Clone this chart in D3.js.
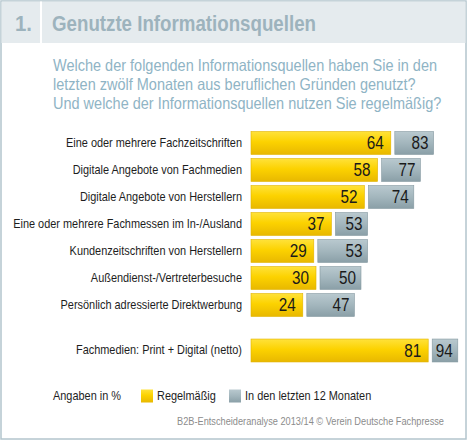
<!DOCTYPE html>
<html>
<head>
<meta charset="utf-8">
<script src="https://cdn.jsdelivr.net/npm/d3@7"></script>
<style>
  html, body { margin: 0; padding: 0; background: #fff; }
  svg { display: block; }
  text { font-family: "Liberation Sans", Arial, sans-serif; }
</style>
</head>
<body>
<script>
const width = 468, height = 441;

// data
const categories = [
  'Eine oder mehrere Fachzeitschriften',
  'Digitale Angebote von Fachmedien',
  'Digitale Angebote von Herstellern',
  'Eine oder mehrere Fachmessen im In-/Ausland',
  'Kundenzeitschriften von Herstellern',
  'Außendienst-/Vertreterbesuche',
  'Persönlich adressierte Direktwerbung'
];
const regular = [64, 58, 52, 37, 29, 30, 24];
const last12 = [83, 77, 74, 53, 53, 50, 47];

const nettoLabel = 'Fachmedien: Print + Digital (netto)';
const nettoRegular = 81;
const nettoLast12 = 94;

const legendItems = ['Regelmäßig', 'In den letzten 12 Monaten'];
const questionLines = [
  'Welche der folgenden Informationsquellen haben Sie in den',
  'letzten zwölf Monaten aus beruflichen Gründen genutzt?',
  'Und welche der Informationsquellen nutzen Sie regelmäßig?'
];

// the original uses a condensed grotesque; squeeze the fallback font to the same widths
function squeeze(sel, f) {
  sel.each(function () {
    const w = this.getComputedTextLength();
    d3.select(this).attr('textLength', w * f).attr('lengthAdjust', 'spacingAndGlyphs');
  });
}

const svg = d3.select('body').append('svg')
  .attr('width', width)
  .attr('height', height);

const defs = svg.append('defs');
const yellowGrad = defs.append('linearGradient').attr('id', 'gY').attr('x1', 0).attr('y1', 0).attr('x2', 0).attr('y2', 1);
yellowGrad.append('stop').attr('offset', '0%').attr('stop-color', '#ffe23a');
yellowGrad.append('stop').attr('offset', '45%').attr('stop-color', '#fcd200');
yellowGrad.append('stop').attr('offset', '100%').attr('stop-color', '#e8b800');
const greyGrad = defs.append('linearGradient').attr('id', 'gG').attr('x1', 0).attr('y1', 0).attr('x2', 0).attr('y2', 1);
greyGrad.append('stop').attr('offset', '0%').attr('stop-color', '#b9c9cf');
greyGrad.append('stop').attr('offset', '50%').attr('stop-color', '#a3b6bd');
greyGrad.append('stop').attr('offset', '100%').attr('stop-color', '#8a9fa7');

// frame + header
svg.append('rect').attr('x', 1).attr('y', 1).attr('width', width - 3).attr('height', height - 3)
  .attr('fill', '#fff').attr('stroke', '#b3c5cd').attr('stroke-width', 1.5);
svg.append('rect').attr('x', 1.5).attr('y', 1.5).attr('width', width - 4).attr('height', 41.5).attr('fill', '#e5ebee');
svg.append('rect').attr('x', 40).attr('y', 1.5).attr('width', 2).attr('height', 41.5).attr('fill', '#fff');

svg.append('text').attr('x', 15).attr('y', 31)
  .attr('font-size', 22).attr('font-weight', 'bold').attr('fill', '#9db3bd')
  .attr('textLength', 17).attr('lengthAdjust', 'spacingAndGlyphs')
  .text('1.');
svg.append('text').attr('x', 52).attr('y', 31)
  .attr('font-size', 22).attr('font-weight', 'bold').attr('fill', '#9db3bd')
  .attr('textLength', 264).attr('lengthAdjust', 'spacingAndGlyphs')
  .text('Genutzte Informationsquellen');

const question = svg.append('g').selectAll('text')
  .data(questionLines)
  .join('text')
  .attr('x', 53)
  .attr('y', (d, i) => 71 + i * 19)
  .attr('font-size', 16.5)
  .attr('fill', '#8fb4c5')
  .text(d => d);
squeeze(question, 384 / question.node().getComputedTextLength());

// scales
const x = d3.scaleLinear().domain([0, 100]).range([251, 471]);
const y = d3.scaleBand().domain(categories).range([129.5, 129.5 + 27 * 7]).paddingInner(0.15).paddingOuter(0.075);
const yNet = d3.scaleBand().domain([nettoLabel]).range([337, 364]).paddingInner(0.15).paddingOuter(0.075);

const rows = categories.map((c, i) => ({ label: c, reg: regular[i], all: last12[i], y: y(c), h: y.bandwidth() }));
rows.push({ label: nettoLabel, reg: nettoRegular, all: nettoLast12, y: yNet(nettoLabel), h: yNet.bandwidth() });

const row = svg.append('g').selectAll('g')
  .data(rows)
  .join('g')
  .attr('transform', d => `translate(0,${d.y})`);

const labels = row.append('text')
  .attr('x', 242)
  .attr('y', d => d.h / 2)
  .attr('dy', '0.3em')
  .attr('text-anchor', 'end')
  .attr('font-size', 13)
  .attr('fill', '#1e1e1e')
  .text(d => d.label);
const labelF = 176 / labels.node().getComputedTextLength();
squeeze(labels, labelF);

row.append('rect')
  .attr('x', x(0))
  .attr('width', d => x(d.reg) - x(0) - 1)
  .attr('height', d => d.h)
  .attr('fill', 'url(#gY)')
  .attr('stroke', '#e2b300').attr('stroke-width', 0.6);

row.append('rect')
  .attr('x', d => x(d.reg) + 3)
  .attr('width', d => x(d.all) - x(d.reg) - 3)
  .attr('height', d => d.h)
  .attr('fill', 'url(#gG)')
  .attr('stroke', '#8599a1').attr('stroke-width', 0.6);

const valRegular = row.append('text')
  .attr('x', d => x(d.reg) - 8)
  .attr('y', d => d.h / 2)
  .attr('dy', '0.36em')
  .attr('text-anchor', 'end')
  .attr('font-size', 18)
  .attr('fill', '#1a1a1a')
  .text(d => d.reg);
const valAll = row.append('text')
  .attr('x', d => x(d.all) - 5)
  .attr('y', d => d.h / 2)
  .attr('dy', '0.36em')
  .attr('text-anchor', 'end')
  .attr('font-size', 18)
  .attr('fill', '#1a1a1a')
  .text(d => d.all);
const numF = 17 / valRegular.node().getComputedTextLength();
squeeze(valRegular, numF);
squeeze(valAll, numF);

// legend
const legend = svg.append('g').attr('transform', 'translate(0,396)');
legend.append('text').attr('x', 53).attr('dy', '0.33em').attr('font-size', 13).attr('fill', '#1e1e1e')
  .text('Angaben in %');
const legendX = [141, 229];
const legendFill = ['url(#gY)', 'url(#gG)'];
legendItems.forEach((t, i) => {
  legend.append('rect').attr('x', legendX[i]).attr('y', -6.5).attr('width', 12).attr('height', 13)
    .attr('fill', legendFill[i]);
  legend.append('text').attr('x', legendX[i] + 16).attr('dy', '0.33em').attr('font-size', 13)
    .attr('fill', '#1e1e1e').text(t);
});
squeeze(legend.selectAll('text'), labelF);

const footer = svg.append('text').attr('x', 444).attr('y', 425).attr('text-anchor', 'end')
  .attr('font-size', 11.5).attr('fill', '#8c8c8c')
  .text('B2B-Entscheideranalyse 2013/14 © Verein Deutsche Fachpresse');
squeeze(footer, 267 / footer.node().getComputedTextLength());
</script>
</body>
</html>
